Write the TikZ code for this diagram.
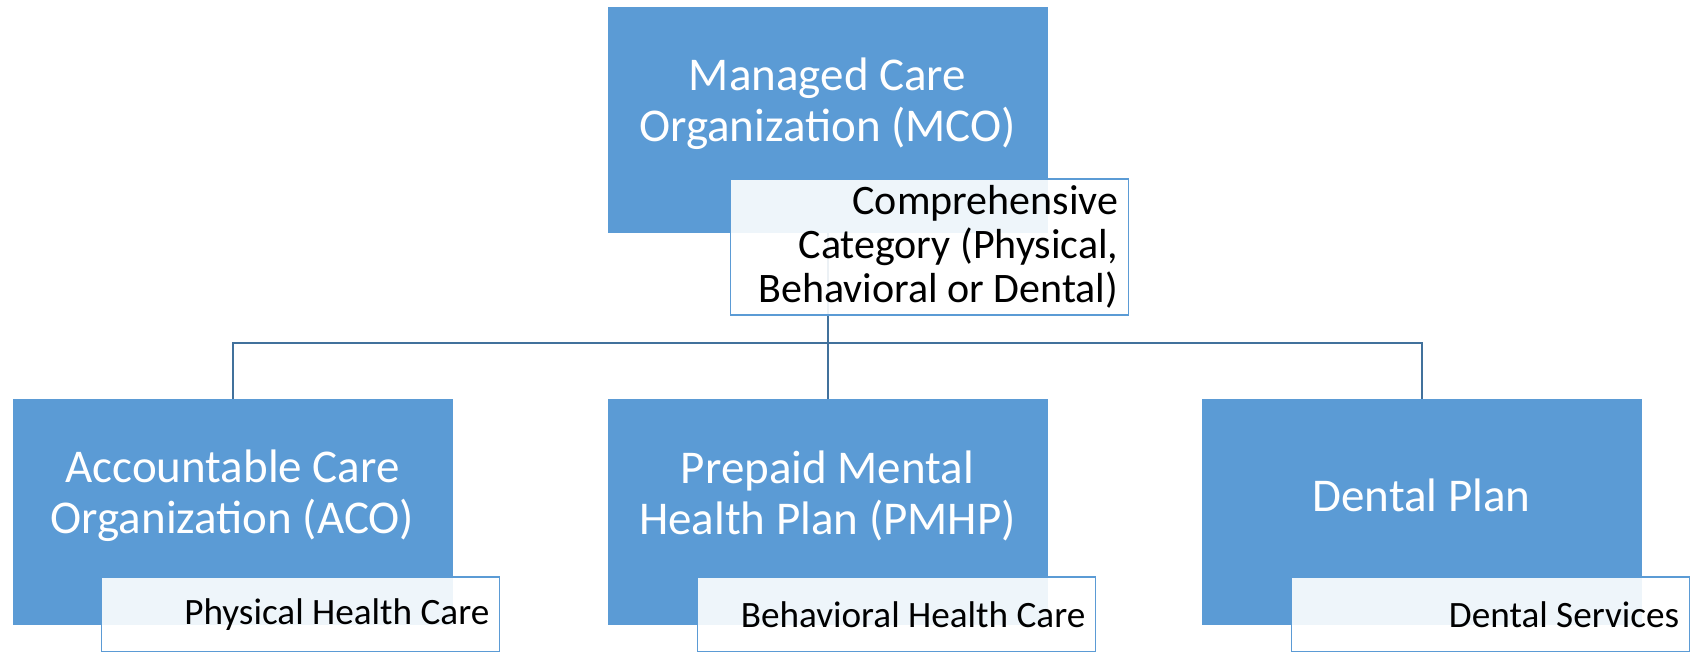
\documentclass[tikz,border=0pt]{standalone}
\usepackage{fontspec}
\setmainfont{Carlito}
\usepackage{tikz}
\usetikzlibrary{positioning}
\definecolor{boxblue}{HTML}{5B9BD5}
\definecolor{lineblue}{HTML}{41719C}
\tikzstyle{orgbox}=[draw=none, fill=boxblue, rectangle, minimum width=220pt, minimum height=113pt, outer sep=0pt, inner sep=0pt]
\tikzstyle{orgtext}=[draw=none, fill=none, text=white, align=center, font=\fontsize{23.5}{25.5}\selectfont]
\tikzstyle{tagbox}=[draw=boxblue, line width=0.8pt, fill=white, fill opacity=0.9, text opacity=1, rectangle, text width=189pt, inner xsep=5pt, inner ysep=0pt, align=flush right, font=\fontsize{18.6}{22}\selectfont, anchor=north west]
\tikzstyle{bus}=[draw=lineblue, line width=1pt]

\begin{document}
\begin{tikzpicture}
\useasboundingbox (0,0) rectangle (846pt,326pt);
\node[orgbox] (mco) at (413.75pt,266pt) {};
\node[orgbox] (aco) at (116.25pt,69.75pt) {};
\node[orgbox, right = 77.5pt of aco] (pmhp) {};
\node[orgbox, right = 77pt of pmhp] (dental) {};
\node[orgtext] (mcotext) at ([yshift=8pt]mco.center) {Managed Care\\Organization (MCO)};
\node[orgtext] (acotext) at ([yshift=8.5pt]aco.center) {Accountable Care\\Organization (ACO)};
\node[orgtext] (pmhptext) at ([yshift=8.5pt]pmhp.center) {Prepaid Mental\\Health Plan (PMHP)};
\node[orgtext] (dentaltext) at ([yshift=8.5pt]dental.center) {Dental Plan};
\coordinate (hub) at (mco.south |- 0,154.5pt);
\draw[bus] (mco.south) -- (hub);
\draw[bus] (aco.north) |- (hub) -| (dental.north);
\draw[bus] (hub) -- (pmhp.north);
\node[tagbox, minimum height=68pt, font=\fontsize{21}{22}\selectfont] (mcotag) at ([xshift=61pt, yshift=27.5pt]mco.south west) {Comprehensive\\Category (Physical,\\Behavioral or Dental)};
\node[tagbox, minimum height=37.5pt] (acotag) at ([xshift=44pt, yshift=24.5pt]aco.south west) {Physical Health Care};
\node[tagbox, minimum height=37.5pt] (pmhptag) at ([xshift=44.5pt, yshift=24.5pt]pmhp.south west) {Behavioral Health Care};
\node[tagbox, minimum height=37.5pt] (dentaltag) at ([xshift=44.5pt, yshift=24.5pt]dental.south west) {Dental Services};
\end{tikzpicture}
\end{document}
